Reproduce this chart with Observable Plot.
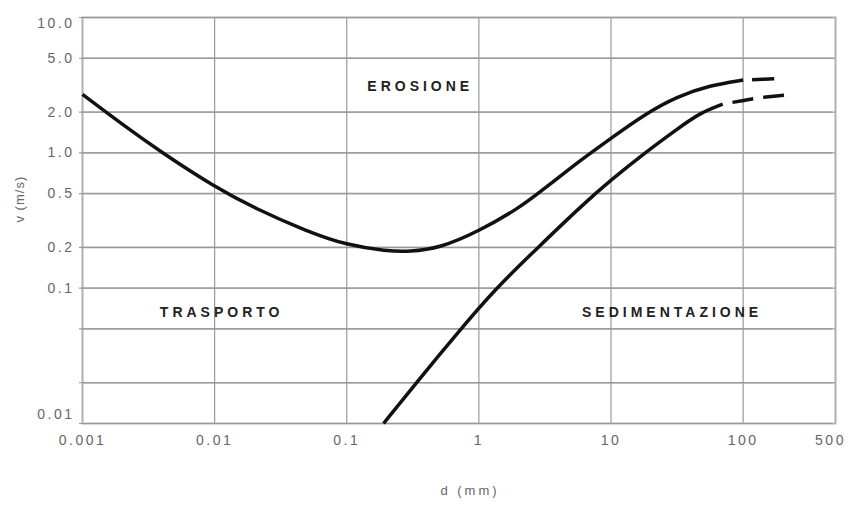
<!DOCTYPE html>
<html>
<head>
<meta charset="utf-8">
<script src="https://cdn.jsdelivr.net/npm/d3@7"></script>
<script src="https://cdn.jsdelivr.net/npm/@observablehq/plot@0.6"></script>
<style>
  html, body { margin: 0; padding: 0; background: #fff; }
  #chart svg { display: block; }
  #chart text { letter-spacing: 2.5px; }
  #chart g.region text { letter-spacing: 4px; }
  #chart g.xtitle text { letter-spacing: 3px; }
  #chart g.ytitle text { letter-spacing: 1px; }
</style>
</head>
<body>
<div id="chart"></div>
<script>
// Axis ticks
const dTicks = [0.001, 0.01, 0.1, 1, 10, 100, 500];
const dTickLabels = ["0.001", "0.01", "0.1", "1", "10", "100", "500"];
const vTicks = [10, 5, 2, 1, 0.5, 0.2, 0.1, 0.05, 0.02, 0.01];
const vTickLabels = ["10.0", "5.0", "2.0", "1.0", "0.5", "0.2", "0.1", "", "", "0.01"];

// Erosion curve (upper), solid part
const erosionD = [0.001, 0.002, 0.004, 0.01, 0.02, 0.05, 0.1, 0.2, 0.3, 0.5, 1, 2, 2.8, 5, 6.6, 10, 18, 32, 56, 100];
const erosionV = [2.7, 1.62, 1.0, 0.56, 0.39, 0.263, 0.208, 0.188, 0.186, 0.197, 0.263, 0.39, 0.5, 0.78, 0.955, 1.28, 1.93, 2.62, 3.15, 3.45];
// Erosion curve, dashed extension
const erosionDashD = [100, 140, 200];
const erosionDashV = [3.45, 3.5, 3.55];

// Sedimentation curve (lower), solid part
const sedD = [0.19, 0.336, 0.73, 1.32, 2.8, 6.2, 10, 18, 32, 47, 70];
const sedV = [0.01, 0.02, 0.05, 0.098, 0.2, 0.42, 0.63, 1.0, 1.51, 1.97, 2.29];
// Sedimentation curve, dashed extension
const sedDashD = [70, 100, 150, 215];
const sedDashV = [2.29, 2.44, 2.6, 2.68];

// Region labels
const regionLabels = ["EROSIONE", "TRASPORTO", "SEDIMENTAZIONE"];
const regionD = [0.36, 0.0113, 29];
const regionV = [3.1, 0.066, 0.066];

const xTitle = "d (mm)";
const yTitle = "v (m/s)";

const toPts = (xs, ys) => xs.map((x, i) => ({d: x, v: ys[i]}));
const erosion = toPts(erosionD, erosionV);
const erosionDash = toPts(erosionDashD, erosionDashV);
const sed = toPts(sedD, sedV);
const sedDash = toPts(sedDashD, sedDashV);
const regions = regionLabels.map((t, i) => ({t, d: regionD[i], v: regionV[i]}));

const lookup = (ticks, labels) => (val) => {
  const i = ticks.findIndex(t => Math.abs(Math.log10(t) - Math.log10(val)) < 1e-6);
  return i < 0 ? "" : labels[i];
};
const vFmt = lookup(vTicks, vTickLabels);
const dFmt = lookup(dTicks, dTickLabels);

const lineStyle = {x: "d", y: "v", stroke: "#111", strokeWidth: 3.5, curve: "basis", strokeLinecap: "butt"};
const tickText = {fill: "#666", fontSize: 14};

const chart = Plot.plot({
  width: 850,
  height: 511,
  marginLeft: 82,
  marginRight: 15,
  marginTop: 17,
  marginBottom: 88,
  style: {fontFamily: "'Liberation Sans', Arial, sans-serif", fontSize: "14px", color: "#666", background: "#fff"},
  x: {type: "log", domain: [0.001, 500], label: null, axis: null},
  y: {type: "log", domain: [0.01, 10], label: null, axis: null},
  marks: [
    Plot.gridX(dTicks.slice(1, -1), {stroke: "#9a9a9a", strokeOpacity: 1, strokeWidth: 1.2}),
    Plot.gridY(vTicks.slice(1, -1), {stroke: "#9a9a9a", strokeOpacity: 1, strokeWidth: 1.4}),
    Plot.frame({stroke: "#b0b0b0", strokeWidth: 2}),
    Plot.tickY(vTicks, {y: d => d, dx: -3, stroke: "#999", strokeWidth: 1.2, x1: () => 0.001, x2: () => 0.001}),
    // x tick labels
    Plot.text(dTicks.slice(0, -1), {...tickText, x: d => d, text: dFmt, frameAnchor: "bottom", dy: 21}),
    Plot.text(dTicks.slice(-1), {...tickText, x: d => d, text: dFmt, frameAnchor: "bottom", dy: 21, dx: -5}),
    // y tick labels
    Plot.text(vTicks.slice(1, -1), {...tickText, y: d => d, text: vFmt, frameAnchor: "left", dx: -8, textAnchor: "end"}),
    Plot.text(vTicks.slice(0, 1), {...tickText, y: d => d, text: vFmt, frameAnchor: "left", dx: -8, dy: 6, textAnchor: "end"}),
    Plot.text(vTicks.slice(-1), {...tickText, y: d => d, text: vFmt, frameAnchor: "left", dx: -8, dy: -9, textAnchor: "end"}),
    Plot.line(erosion, lineStyle),
    Plot.line(erosionDash, {...lineStyle, strokeDasharray: "22,9", strokeDashoffset: 22}),
    Plot.line(sed, lineStyle),
    Plot.line(sedDash, {...lineStyle, strokeDasharray: "21,10", strokeDashoffset: 21}),
    Plot.text(regions, {x: "d", y: "v", text: "t", fontWeight: "bold", fontSize: 14, fill: "#222", className: "region"}),
    Plot.text([xTitle], {frameAnchor: "bottom", dx: 11, dy: 71, fill: "#666", fontSize: 13, className: "xtitle"}),
    Plot.text([yTitle], {frameAnchor: "left", rotate: -90, dx: -63, dy: 2, fill: "#666", fontSize: 13, className: "ytitle"})
  ]
});
document.getElementById("chart").appendChild(chart);
</script>
</body>
</html>
